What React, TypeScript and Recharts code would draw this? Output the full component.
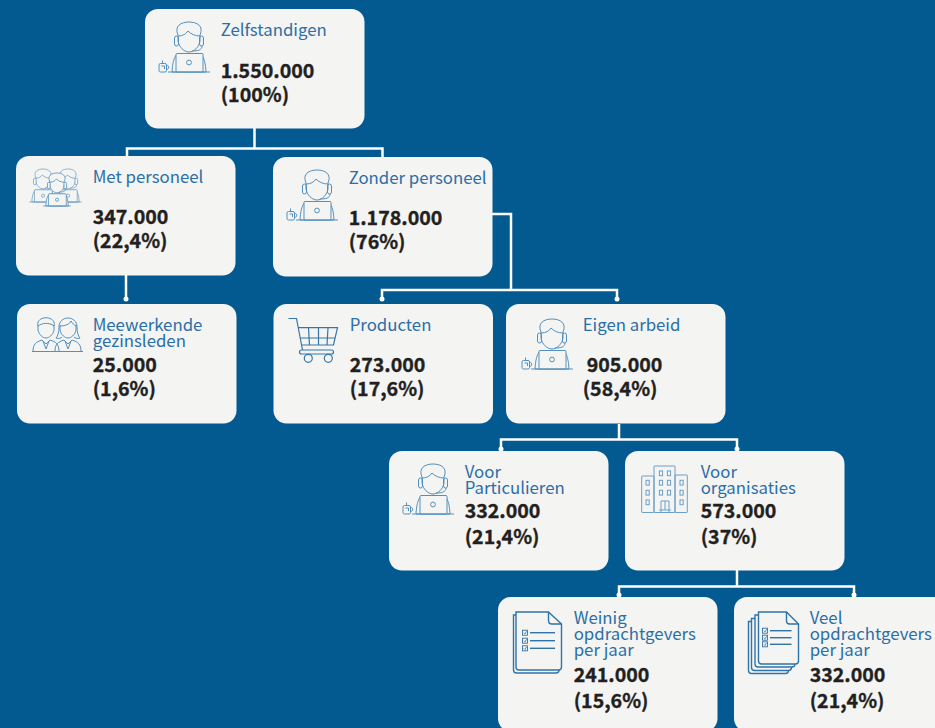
import React from 'react';
import { Scatter, ScatterChart, XAxis, YAxis } from 'recharts';

const WIDTH = 935;
const HEIGHT = 728;
const BG = '#035a91';
const BOX = '#f4f4f3';
const TITLE = '#2b6fa6';
const ICON = '#5490bd';
const DARK = '#231f20';
const FONT = '"Noto Sans CJK SC", "Noto Sans", sans-serif';

// values
const titles = [
  ['Zelfstandigen'],
  ['Met personeel'],
  ['Zonder personeel'],
  ['Meewerkende', 'gezinsleden'],
  ['Producten'],
  ['Eigen arbeid'],
  ['Voor', 'Particulieren'],
  ['Voor', 'organisaties'],
  ['Weinig', 'opdrachtgevers', 'per jaar'],
  ['Veel', 'opdrachtgevers', 'per jaar'],
];
const counts = [1550000, 347000, 1178000, 25000, 273000, 905000, 332000, 573000, 241000, 332000];
const shares = [100, 22.4, 76, 1.6, 17.6, 58.4, 21.4, 37, 15.6, 21.4];
const icons = ['person', 'group', 'person', 'couple', 'cart', 'person', 'person', 'building', 'doc', 'docs'];

// layout of the tree, top-left corner of every box
const boxLeft = [145, 16, 273, 17, 273.5, 506, 389, 625, 498, 734];
const boxTop = [9, 156, 157, 304, 304, 304, 451, 451, 597, 597];
const iconShift = [
  [0, 0], [0, 0], [0, 0], [0, 0], [0, 0], [2, 2], [0, 0], [0, 0], [0, 0], [0, 0],
];
const valueTop = [68.5, 67.5, 67.5, 67.5, 67.5, 67.5, 66.5, 66.5, 84.5, 84.5];
const shareTop = [92.5, 91.5, 91.5, 91.5, 91.5, 91.5, 92.5, 92.5, 110.5, 110.5];
const textLeft = [75.7, 76.7, 75.7, 75.7, 76.2, 76.7, 75.7, 75.7, 75.7, 75.7];
const countLeft = [75.7, 76.7, 75.7, 75.7, 76.2, 80.7, 75.7, 75.7, 75.7, 75.7];
const BOX_W = 219.5;
const BOX_H = 119.5;

const connectors = [
  [[254.5, 128], [254.5, 148.5]],
  [[127, 156], [127, 148.5], [382.5, 148.5], [382.5, 157]],
  [[126, 275], [126, 299]],
  [[492, 214], [511, 214], [511, 290]],
  [[382, 299], [382, 290], [617, 290], [617, 299]],
  [[619, 424], [619, 439.5]],
  [[501, 449], [501, 439.5], [737, 439.5], [737, 449]],
  [[737, 570], [737, 586.5]],
  [[619, 595], [619, 586.5], [854, 586.5], [854, 595]],
];
const tips = [[126, 299], [382, 299], [617, 299], [501, 449], [737, 449], [619, 595], [854, 595]];

const nodes = titles.map((title, i) => ({
  x: boxLeft[i],
  y: boxTop[i],
  title,
  count: counts[i],
  share: shares[i],
  icon: icons[i],
  index: i,
}));

const formatCount = (n: number) => String(n).replace(/\B(?=(\d{3})+$)/g, '.');
const formatShare = (n: number) => `(${String(n).replace('.', ',')}%)`;

function Person({ fill = 'none', mug = true }: { fill?: string; mug?: boolean }) {
  return (
    <g fill={fill}>
      <path d="M27 63 C27.5 55 28.5 49 32 45 L56 45 C59.5 49 60.5 55 61 63 Z" />
      <path d="M33 26 C29 17 36 13 44 13 C52 13 59 17 55 26 L55 32 C54 38 49 43 44 43 C39 43 34 38 33 32 Z" />
      <path d="M33 27 C38 27 41 25 43 22 C46 25 50 27 55 27" fill="none" />
      <rect x={29.5} y={27} width={4} height={10} rx={2} />
      <rect x={54.5} y={27} width={4} height={10} rx={2} />
      <path d="M57 37 C57 41 53 42 47 42" fill="none" />
      <rect x={31} y={44.5} width={27} height={18.5} rx={1} fill={BOX} />
      <circle cx={44} cy={53.5} r={2.4} fill="none" />
      <path d="M23 63 L65 63" fill="none" />
      {mug ? (
        <g fill="none">
          <rect x={14} y={54.5} width={7.5} height={8.5} rx={1.5} />
          <path d="M21.5 56.5 C24.5 56 24.5 60.5 21.5 60.5 M17.5 54.5 L17.5 51.5 M16.5 57 L19.5 57 L19.5 60" />
        </g>
      ) : null}
    </g>
  );
}

function Bust({ woman = false }: { woman?: boolean }) {
  return (
    <g fill="none">
      <path d="M-13 23.5 C-13 16 -10 14 -4 12 L0 16 L4 12 C10 14 13 16 13 23.5" />
      <path d="M-3 13 L0 21 L3 13" />
      {woman ? (
        <path d="M-9 -1 C-9 -13 9 -13 9 -1 C9 4 10 8 12 10 C9 11 7 10 6 9 M-9 -1 C-9 4 -10 8 -12 10 C-9 11 -7 10 -6 9 M-8 -2 C-3 -2 2 -4 3 -7 C4 -5 6 -3 8 -2" />
      ) : (
        <path d="M-8 -2 C-11 -13 11 -13 8 -2 M-8 -2 C-4 -5 3 -6 8 -2" />
      )}
      <path d="M-8 -3 L-8 2 C-7 7 -3 10 0 10 C3 10 7 7 8 2 L8 -3" />
    </g>
  );
}

function Icon({ kind }: { kind: string }) {
  if (kind === 'person') return <Person />;
  if (kind === 'group') {
    return (
      <g strokeWidth={1.2}>
        <g strokeOpacity={0.8} transform="translate(-2 4.4) scale(0.66)"><Person fill={BOX} mug={false} /></g>
        <g strokeOpacity={0.8} transform="translate(23 4.4) scale(0.66)"><Person fill={BOX} mug={false} /></g>
        <g transform="translate(12 8.4) scale(0.66)"><Person fill={BOX} mug={false} /></g>
      </g>
    );
  }
  if (kind === 'couple') {
    return (
      <g>
        <g transform="translate(29 24)"><Bust /></g>
        <g transform="translate(51 24)"><Bust woman /></g>
        <path d="M15 47.5 L66 47.5" fill="none" />
      </g>
    );
  }
  if (kind === 'cart') {
    return (
      <g fill="none" stroke="#3576aa" strokeWidth={1.2}>
        <path d="M15 14.5 L23 14.5 L29 46 M24.8 23.7 L64 23.7 L60 41 L28 41" />
        <path d="M35 23.7 L36 41 M45 23.7 L45 41 M54.5 23.7 L53.5 41 M26.5 34 L61.5 34" />
        <rect x={26} y={46} width={34} height={4} rx={2} />
        <circle cx={34.8} cy={54.3} r={4} />
        <circle cx={54.8} cy={54.3} r={4} />
      </g>
    );
  }
  if (kind === 'building') {
    const mid = [36, 44];
    const rows = [22.3, 31.7, 41.7];
    const wing = [31.7, 41.7, 51.3];
    return (
      <g fill="none" stroke="#6a9fc7">
        <rect x={29} y={15} width={21} height={46.5} rx={0.5} />
        <rect x={16.7} y={25} width={12.3} height={36.5} rx={0.5} />
        <rect x={50} y={24} width={12.3} height={37.5} rx={0.5} />
        {mid.flatMap((wx) => rows.map((wy) => (
          <rect key={`${wx}-${wy}`} x={wx - 1.6} y={wy - 2.4} width={3.2} height={4.8} />
        )))}
        {wing.map((wy) => <rect key={`l${wy}`} x={21} y={wy - 2.4} width={3.2} height={4.8} />)}
        {wing.map((wy) => <rect key={`r${wy}`} x={55} y={wy - 2.4} width={3.2} height={4.8} />)}
        <path d="M36 61 L36 50 L44 50 L44 61 M40 50 L40 59 M34 59 L46 59" />
      </g>
    );
  }
  const isStack = kind === 'docs';
  const page = isStack
    ? 'M24.5 15 L52.5 15 L64.5 27 L64.5 64 Q64.5 67 61.5 67 L27.5 67 Q24.5 67 24.5 64 Z'
    : 'M18 15 L50.5 15 L63.5 27 L63.5 70 Q63.5 73 60.5 73 L21 73 Q18 73 18 70 Z';
  const fold = isStack ? 'M52.5 15 L52.5 24 Q52.5 27 55.5 27 L64.5 27' : 'M50.5 15 L50.5 23.5 Q50.5 27 54 27 L63.5 27';
  const shifts = isStack ? [[-10, 9.5], [-7, 6.5], [-3.5, 3]] : [[-2.5, 3]];
  const rows = isStack ? [33.7, 40.7, 47.3] : [35.7, 43.7, 51.3];
  const boxX = isStack ? 31 : 27;
  const lineEnd = isStack ? 57.5 : 57;
  return (
    <g fill={BOX} stroke="#2f73a8" strokeWidth={1.4}>
      {shifts.map(([sx, sy]) => <path key={sx} d={page} transform={`translate(${sx} ${sy})`} />)}
      <path d={page} />
      <path d={fold} fill="none" />
      {rows.map((ry) => (
        <g key={ry}>
          <rect x={boxX - 2.5} y={ry - 2.5} width={5} height={5} fill="none" strokeWidth={0.9} />
          <path d={`M${boxX - 1.2} ${ry} L${boxX} ${ry + 1.2} L${boxX + 1.6} ${ry - 1.5}`} fill="none" strokeWidth={0.8} />
          <path d={`M${boxX + 5} ${ry} L${lineEnd} ${ry}`} />
        </g>
      ))}
    </g>
  );
}

function NodeBox(props: any) {
  const { cx, cy, payload } = props;
  const i = payload.index;
  const [shiftX, shiftY] = iconShift[i];
  return (
    <g>
      <rect x={cx} y={cy} width={BOX_W} height={BOX_H + (i > 7 ? 15 : 0)} rx={13} fill={BOX} />
      <g transform={`translate(${cx + shiftX} ${cy + shiftY})`} stroke={ICON} strokeWidth={1} fill="none">
        <Icon kind={payload.icon} />
      </g>
      {payload.title.map((line: string, k: number) => (
        <text key={line} x={cx + textLeft[i]} y={cy + 27.3 + k * 16} fill={TITLE} fontFamily={FONT} fontSize={16.8}>
          {line}
        </text>
      ))}
      <text x={cx + countLeft[i]} y={cy + valueTop[i]} fill={DARK} stroke={DARK} strokeWidth={0.35} fontFamily={FONT} fontSize={19.6} fontWeight={700}>
        {formatCount(payload.count)}
      </text>
      <text x={cx + textLeft[i]} y={cy + shareTop[i]} fill={DARK} stroke={DARK} strokeWidth={0.35} fontFamily={FONT} fontSize={19.6} fontWeight={700}>
        {formatShare(payload.share)}
      </text>
    </g>
  );
}

const NoDot = () => <g />;
const TipDot = (props: any) => <circle cx={props.cx} cy={props.cy} r={2.5} fill="#fff" />;

export default function App() {
  const tipData = tips.map(([x, y]) => ({ x, y }));
  return (
    <div style={{ position: 'absolute', left: 0, top: 0, width: WIDTH, height: HEIGHT, background: BG, overflow: 'hidden' }}>
      <ScatterChart width={WIDTH} height={HEIGHT} margin={{ top: 0, right: 0, bottom: 0, left: 0 }}>
        <XAxis type="number" dataKey="x" domain={[0, WIDTH]} hide allowDataOverflow />
        <YAxis type="number" dataKey="y" domain={[0, HEIGHT]} reversed hide allowDataOverflow />
        {connectors.map((points, i) => (
          <Scatter
            key={i}
            data={points.map(([x, y]) => ({ x, y }))}
            line={{ stroke: '#fff', strokeWidth: 2.5 }}
            shape={NoDot}
            isAnimationActive={false}
          />
        ))}
        <Scatter data={tipData} shape={TipDot} isAnimationActive={false} />
        <Scatter data={nodes} shape={NodeBox} isAnimationActive={false} />
      </ScatterChart>
    </div>
  );
}
